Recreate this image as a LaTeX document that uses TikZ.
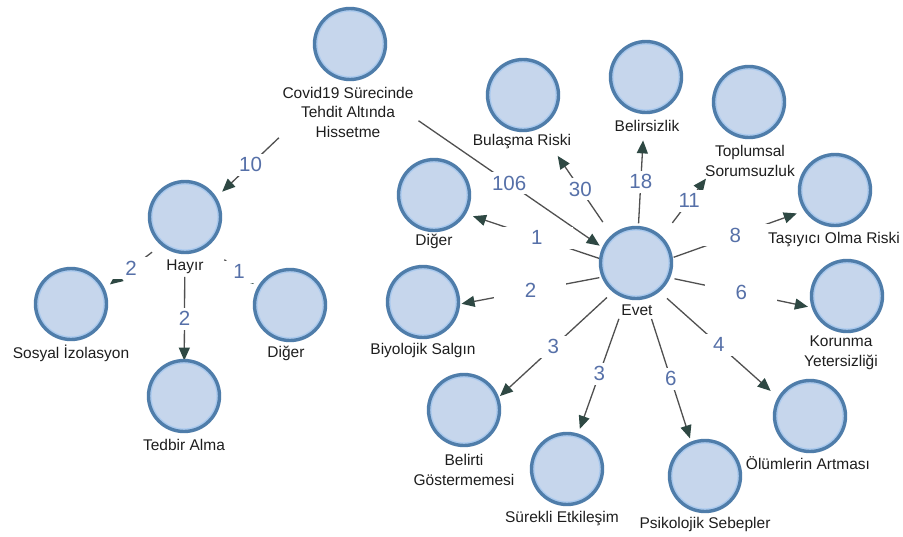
\documentclass[tikz,border=0pt]{standalone}
\usepackage{fontspec}
\setmainfont{Liberation Sans}
\usetikzlibrary{arrows.meta,calc,fit,backgrounds}
\definecolor{circstroke}{HTML}{4F7DAA}
\definecolor{circfill}{HTML}{C6D6EC}
\definecolor{ringcol}{HTML}{A9C9EE}
\definecolor{numcol}{HTML}{5670A8}
\definecolor{linecol}{HTML}{505050}
\definecolor{tipcol}{HTML}{2E4843}
\definecolor{txtcol}{HTML}{1E1E1E}
\begin{document}
\begin{tikzpicture}[x=1pt,y=-1pt,
  circ/.style={circle, draw=circstroke, line width=3.4pt, fill=circfill,
    minimum size=71pt, inner sep=0pt,
    path picture={\draw[ringcol, line width=1.4pt] (path picture bounding box.center) circle (33.1pt);}},
  lbl/.style={font=\fontsize{15.5}{19.5}\selectfont, text=txtcol, align=center, inner sep=0pt},
  fitbox/.style={inner sep=0pt, draw=none},
  num/.style={font=\fontsize{20.5}{24}\selectfont, text=numcol, fill=white,
    minimum width=72pt, minimum height=22pt, inner sep=0pt},
  conn/.style={draw=linecol, line width=1.3pt,
    -{Triangle[length=13pt,width=11pt,color=tipcol]}}]
\useasboundingbox (0,0) rectangle (903,536);

% ---- concept nodes: circle + label + composite box
\node[circ] (cov) at (350,44) {};
\node[lbl] (covL) at (348,112) {Covid19 Sürecinde\\Tehdit Altında\\Hissetme};
\node[fitbox, fit=(cov)(covL)] (covB) {};

\node[circ] (hay) at (185,217) {};
\node[lbl] (hayL) at (185,267) {Hayır};
\node[fitbox, fit=(hay)(hayL)] (hayB) {};

\node[circ] (sos) at (71,304) {};
\node[lbl] (sosL) at (71,353) {Sosyal İzolasyon};
\node[fitbox, fit=(sos)(sosL)] (sosB) {};

\node[circ] (dig1) at (290,305) {};
\node[lbl] (dig1L) at (286,353) {Diğer};
\node[fitbox, fit=(dig1)(dig1L)] (dig1B) {};

\node[circ] (ted) at (184,396) {};
\node[lbl] (tedL) at (184,445) {Tedbir Alma};
\node[fitbox, fit=(ted)(tedL)] (tedB) {};

\node[circ] (evet) at (636,263) {};
\node[lbl] (evetL) at (637,310) {Evet};
\node[fitbox, fit=(evet)(evetL)] (evetB) {};

\node[circ] (bul) at (523,95) {};
\node[lbl] (bulL) at (522,142) {Bulaşma Riski};
\node[fitbox, fit=(bul)(bulL)] (bulB) {};

\node[circ] (bel) at (646,77) {};
\node[lbl] (belL) at (647,126) {Belirsizlik};
\node[fitbox, fit=(bel)(belL)] (belB) {};

\node[circ] (top) at (749,102) {};
\node[lbl] (topL) at (750,161) {Toplumsal\\Sorumsuzluk};
\node[fitbox, fit=(top)(topL)] (topB) {};

\node[circ] (tas) at (835,190) {};
\node[lbl] (tasL) at (834,240) {Taşıyıcı Olma Riski};
\node[fitbox, fit=(tas)(tasL)] (tasB) {};

\node[circ] (kor) at (847,296) {};
\node[lbl] (korL) at (841,353) {Korunma\\Yetersizliği};
\node[fitbox, fit=(kor)(korL)] (korB) {};

\node[circ] (olu) at (810,416) {};
\node[lbl] (oluL) at (808,463) {Ölümlerin Artması};
\node[fitbox, fit=(olu)(oluL)] (oluB) {};

\node[circ] (psi) at (705,476) {};
\node[lbl] (psiL) at (705,524) {Psikolojik Sebepler};
\node[fitbox, fit=(psi)(psiL)] (psiB) {};

\node[circ] (sur) at (567,469) {};
\node[lbl] (surL) at (562,519) {Sürekli Etkileşim};
\node[fitbox, fit=(sur)(surL)] (surB) {};

\node[circ] (bti) at (464,410) {};
\node[lbl] (btiL) at (464,470) {Belirti\\Göstermemesi};
\node[fitbox, fit=(bti)(btiL)] (btiB) {};

\node[circ] (bio) at (423,302) {};
\node[lbl] (bioL) at (423,350) {Biyolojik Salgın};
\node[fitbox, fit=(bio)(bioL)] (bioB) {};

\node[circ] (dig2) at (434,195) {};
\node[lbl] (dig2L) at (434,241) {Diğer};
\node[fitbox, fit=(dig2)(dig2L)] (dig2B) {};

% ---- connectors (under the circles)
\begin{pgfonlayer}{background}
\fill[white] (0,0) rectangle (903,536);
\draw[conn] ($(covB)!0.424!(hayB)$) -- node[num]{10} ($(covB)!0.772!(hayB)$);
\draw[conn] ($(covB)!0.245!(evetB)$) -- node[num]{106} ($(covB)!0.874!(evetB)$);
\draw[conn] ($(hayB)!0.289!(sosB)$) -- node[num]{2} ($(hayB)!0.659!(sosB)$);
\draw[conn] ($(hayB)!0.375!(dig1B)$) -- node[num]{1} ($(hayB)!0.655!(dig1B)$);
\draw[conn] ($(hayB)!0.28!(tedB)$) -- node[num]{2} ($(hayB)!0.751!(tedB)$);
\draw[conn] ($(evetB)!0.175!(dig2B)$) -- node[num]{1} ($(evetB)!0.807!(dig2B)$);
\draw[conn] ($(evetB)!0.172!(bioB)$) -- node[num]{2} ($(evetB)!0.819!(bioB)$);
\draw[conn] ($(evetB)!0.169!(btiB)$) -- node[num]{3} ($(evetB)!0.791!(btiB)$);
\draw[conn] ($(evetB)!0.231!(surB)$) -- node[num]{3} ($(evetB)!0.759!(surB)$);
\draw[conn] ($(evetB)!0.225!(psiB)$) -- node[num]{6} ($(evetB)!0.782!(psiB)$);
\draw[conn] ($(evetB)!0.18!(oluB)$) -- node[num]{4} ($(evetB)!0.783!(oluB)$);
\draw[conn] ($(evetB)!0.185!(korB)$) -- node[num]{6} ($(evetB)!0.826!(korB)$);
\draw[conn] ($(evetB)!0.19!(tasB)$) -- node[num]{8} ($(evetB)!0.812!(tasB)$);
\draw[conn] ($(evetB)!0.319!(topB)$) -- node[num]{11} ($(evetB)!0.614!(topB)$);
\draw[conn] ($(evetB)!0.256!(belB)$) -- node[num]{18} ($(evetB)!0.705!(belB)$);
\draw[conn] ($(evetB)!0.291!(bulB)$) -- node[num]{30} ($(evetB)!0.687!(bulB)$);
\end{pgfonlayer}
\end{tikzpicture}
\end{document}
